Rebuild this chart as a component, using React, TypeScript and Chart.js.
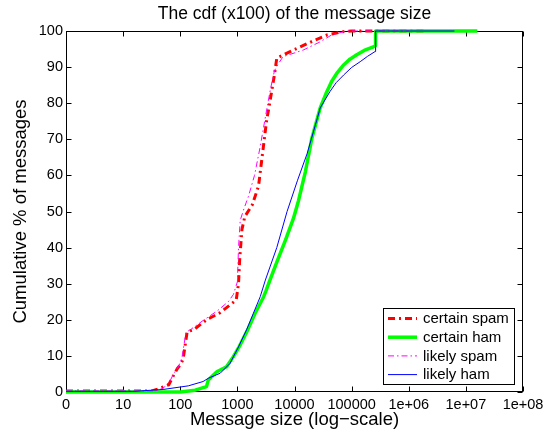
import React, { useEffect, useRef } from 'react';
import { Chart, registerables } from 'chart.js';

Chart.register(...registerables);

const FONT = '"Liberation Sans", Arial, Helvetica, sans-serif';

const chartTitle = 'The cdf (x100) of the message size';
const xAxisTitle = 'Message size (log\u2212scale)';
const yAxisTitle = 'Cumulative % of messages';

const xTickValues = [1, 10, 100, 1000, 10000, 100000, 1e6, 1e7, 1e8];
const xTickLabels = ['0', '10', '100', '1000', '10000', '100000', '1e+06', '1e+07', '1e+08'];
const yTickValues = [0, 10, 20, 30, 40, 50, 60, 70, 80, 90, 100];

const seriesNames = ['certain spam', 'certain ham', 'likely spam', 'likely ham'];

// message size (bytes) and cumulative percentage for each series
const certainSpamSize = [1, 32, 40, 63, 74, 89, 100, 112, 132, 170, 288, 501, 741, 955, 1047, 1096, 1202, 1349, 1820, 2344, 2754, 3236, 3631, 4074, 4467, 4898, 7244, 12589, 22909, 37154, 70795, 100000, 2000000];
const certainSpamPct = [0.3, 0.3, 0.8, 2, 4.2, 6.5, 7.5, 9, 16.7, 17.2, 20, 22, 24.1, 25.5, 30, 36.6, 45, 48.6, 51.8, 57, 66, 75, 79.5, 84.2, 88, 92.5, 93.8, 95.6, 97.5, 98.9, 99.8, 100, 100];

const certainHamSize = [1, 100, 182, 288, 309, 437, 646, 851, 1072, 1514, 2042, 2884, 3162, 3715, 4898, 6918, 9550, 11749, 15488, 19953, 28184, 35481, 44668, 56234, 72444, 93325, 123027, 165959, 239883, 263027, 263100, 15848932];
const certainHamPct = [0, 0, 0.5, 1.5, 3.3, 5.6, 7, 9.8, 12.5, 17.2, 21.8, 26.4, 28, 31, 36, 42, 48, 53, 61, 70, 78.7, 82.6, 86, 88.5, 90.6, 92.2, 93.4, 94.6, 95.6, 96, 100, 100];

const likelySpamSize = [1, 35, 50, 66, 76, 93, 107, 126, 158, 251, 447, 692, 851, 1000, 1047, 1122, 1318, 1549, 1995, 2512, 3162, 3802, 4467, 5248, 6310, 14125, 28184, 44668, 81283, 1000000];
const likelySpamPct = [0.3, 0.3, 1, 3, 5, 7, 9.5, 16.5, 17.5, 19.8, 22.5, 25, 27, 30.5, 40, 47.6, 51, 54, 60, 68, 77, 84, 89, 91, 92.9, 94.7, 97, 98.9, 100, 100];

const likelyHamSize = [1, 16, 50, 138, 251, 309, 501, 741, 1047, 1445, 1905, 2512, 3090, 4898, 7413, 11220, 16596, 24547, 28184, 41687, 53703, 72444, 100000, 141254, 190546, 257040, 263027, 6309573];
const likelyHamPct = [0.2, 0.2, 0.7, 1.7, 2.9, 3.8, 5.2, 7.9, 12.5, 17.2, 21.8, 26.4, 31, 40, 50, 58.5, 66, 75.3, 78.7, 83.2, 85.7, 87.8, 89.9, 91.5, 93, 94.3, 100, 100];

const toPoints = (xs: number[], ys: number[]) => xs.map((x, i) => ({ x, y: ys[i] }));

const framePlugin = {
  id: 'frame',
  beforeDatasetsDraw(chart: any) {
    const { ctx, chartArea: a, scales } = chart;
    ctx.save();
    ctx.strokeStyle = '#000';
    ctx.lineWidth = 1;
    const L = Math.round(a.left) + 0.5;
    const R = Math.round(a.right) - 0.5;
    const T = Math.round(a.top) + 0.5;
    const B = Math.round(a.bottom) - 0.5;
    ctx.strokeRect(L, T, R - L, B - T);
    const tl = 5;
    ctx.beginPath();
    xTickValues.forEach((v) => {
      const px = Math.round(scales.x.getPixelForValue(v)) + 0.5;
      ctx.moveTo(px, B);
      ctx.lineTo(px, B - tl);
      ctx.moveTo(px, T);
      ctx.lineTo(px, T + tl);
    });
    yTickValues.forEach((v) => {
      const py = Math.round(scales.y.getPixelForValue(v)) + 0.5;
      ctx.moveTo(L, py);
      ctx.lineTo(L + tl, py);
      ctx.moveTo(R, py);
      ctx.lineTo(R - tl, py);
    });
    ctx.stroke();
    ctx.restore();
  },
  afterDraw(chart: any) {
    const { ctx, chartArea: a } = chart;
    ctx.save();
    ctx.fillStyle = '#000';
    ctx.font = `17.5px ${FONT}`;
    ctx.textAlign = 'center';
    ctx.textBaseline = 'alphabetic';
    ctx.fillText(chartTitle, (a.left + a.right) / 2, 18.5);
    ctx.restore();
  },
};

const legendPlugin = {
  id: 'boxLegend',
  afterDatasetsDraw(chart: any) {
    const { ctx, chartArea: a } = chart;
    const w = 131;
    const h = 76;
    const x0 = Math.round(a.right) - 9 - w;
    const y0 = Math.round(a.bottom) - 8 - h;
    ctx.save();
    ctx.fillStyle = '#fff';
    ctx.fillRect(x0, y0, w, h);
    ctx.strokeStyle = '#000';
    ctx.lineWidth = 1;
    ctx.strokeRect(x0 + 0.5, y0 + 0.5, w, h);
    ctx.font = `15px ${FONT}`;
    ctx.textBaseline = 'middle';
    ctx.textAlign = 'left';
    chart.data.datasets.forEach((ds: any, i: number) => {
      const y = y0 + 10.5 + i * 18.7;
      ctx.beginPath();
      ctx.strokeStyle = ds.borderColor;
      ctx.lineWidth = ds.borderWidth;
      ctx.setLineDash(ds.borderDash || []);
      ctx.moveTo(x0 + 5, y);
      ctx.lineTo(x0 + 34, y);
      ctx.stroke();
      ctx.setLineDash([]);
      ctx.fillStyle = '#000';
      ctx.fillText(ds.label, x0 + 40, y + 0.5);
    });
    ctx.restore();
  },
};

export default function App() {
  const ref = useRef<HTMLCanvasElement>(null);

  useEffect(() => {
    if (!ref.current) return;
    Chart.defaults.font.family = FONT;
    const chart = new Chart(ref.current, {
      type: 'line',
      data: {
        datasets: [
          {
            label: seriesNames[0],
            data: toPoints(certainSpamSize, certainSpamPct),
            borderColor: '#ff0000',
            borderWidth: 3,
            borderDash: [7, 4, 2, 4],
            order: 4,
          },
          {
            label: seriesNames[1],
            data: toPoints(certainHamSize, certainHamPct),
            borderColor: '#00ff00',
            borderWidth: 3.5,
            order: 3,
          },
          {
            label: seriesNames[2],
            data: toPoints(likelySpamSize, likelySpamPct),
            borderColor: '#ff00ff',
            borderWidth: 1,
            borderDash: [6, 3, 1.5, 3],
            order: 2,
          },
          {
            label: seriesNames[3],
            data: toPoints(likelyHamSize, likelyHamPct),
            borderColor: '#0000ff',
            borderWidth: 1,
            order: 1,
          },
        ] as any,
      },
      options: {
        animation: false,
        responsive: false,
        devicePixelRatio: 1,
        layout: { padding: { top: 31, right: 31, bottom: 1, left: 0 } },
        elements: {
          point: { radius: 0, hoverRadius: 0 },
          line: { tension: 0, fill: false, borderJoinStyle: 'round' },
        },
        datasets: { line: { clip: false as any } },
        plugins: {
          legend: { display: false },
          title: { display: false },
          tooltip: { enabled: false },
        },
        scales: {
          x: {
            type: 'logarithmic',
            min: 1,
            max: 1e8,
            afterBuildTicks: (s: any) => {
              s.ticks = xTickValues.map((v) => ({ value: v }));
            },
            afterFit: (s: any) => {
              s.height = 40;
            },
            grid: { display: false, drawTicks: false },
            border: { display: false },
            ticks: {
              autoSkip: false,
              maxRotation: 0,
              padding: 4,
              color: '#000',
              font: { size: 14.5, family: FONT },
              callback: (_v: any, i: number) => xTickLabels[i],
            },
            title: {
              display: true,
              text: xAxisTitle,
              color: '#000',
              font: { size: 18.5, family: FONT },
              padding: { top: 0, bottom: 1 },
            },
          },
          y: {
            type: 'linear',
            min: 0,
            max: 100,
            afterBuildTicks: (s: any) => {
              s.ticks = yTickValues.map((v) => ({ value: v }));
            },
            afterFit: (s: any) => {
              s.width = 66;
            },
            grid: { display: false, drawTicks: false },
            border: { display: false },
            ticks: {
              padding: 3,
              color: '#000',
              font: { size: 14.5, family: FONT },
            },
            title: {
              display: true,
              text: yAxisTitle,
              color: '#000',
              font: { size: 18.5, family: FONT },
              padding: { top: 10, bottom: 0 },
            },
          },
        },
      },
      plugins: [framePlugin, legendPlugin],
    });
    return () => chart.destroy();
  }, []);

  return (
    <div style={{ position: 'fixed', left: 0, top: 0, width: 554, height: 433, background: '#fff' }}>
      <canvas ref={ref} width={554} height={433} style={{ display: 'block', width: 554, height: 433 }} />
    </div>
  );
}
